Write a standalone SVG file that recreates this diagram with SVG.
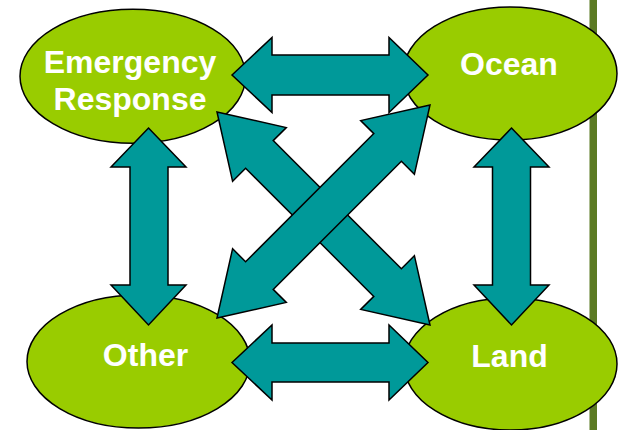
<svg xmlns="http://www.w3.org/2000/svg" width="618" height="430" viewBox="0 0 618 430">
<style>
.node ellipse{fill:#99cc00;stroke:#000;stroke-width:1.5}
.node text{fill:#fff;font-family:"Liberation Sans",Arial,sans-serif;font-weight:bold;font-size:32px;text-anchor:middle}
.arrow{fill:#009999;stroke:#000;stroke-width:1.5;stroke-linejoin:miter}
</style>
<rect width="618" height="430" fill="#fff"/>
<rect x="589.5" y="0" width="7.5" height="430" fill="#5b7a23"/>
<g id="emergency-response" class="node">
<ellipse cx="132.8" cy="76.3" rx="112.8" ry="67"/>
<text x="130" y="73">Emergency</text>
<text x="130" y="110">Response</text>
</g>
<g id="ocean" class="node">
<ellipse cx="510" cy="73.5" rx="107" ry="66.5"/>
<text x="509" y="75">Ocean</text>
</g>
<g id="other" class="node">
<ellipse cx="138.5" cy="361.5" rx="111.5" ry="66.5"/>
<text x="145.5" y="366">Other</text>
</g>
<g id="land" class="node">
<ellipse cx="510.5" cy="364" rx="106.5" ry="66"/>
<text x="509.5" y="367">Land</text>
</g>
<g id="connectors">
<polygon class="arrow" points="232,75 272,37.5 272,55 389,55 389,37.5 428,75 389,112.5 389,95 272,95 272,112.5"/>
<polygon class="arrow" points="232,362.5 272,325 272,343 389,343 389,325 428,362.5 389,400 389,382 272,382 272,400"/>
<polygon class="arrow" points="148.5,128 186,167 168,167 168,285 186,285 148.5,325 111,285 130,285 130,167 111,167"/>
<polygon class="arrow" points="511.5,128 549,167 530.5,167 530.5,285 549,285 511.5,325 474,285 492.5,285 492.5,167 474,167"/>
<polygon class="arrow" points="217,112 286.3,127.6 273.2,140.6 401.4,268.8 414.4,255.7 430,325 360.7,309.4 373.8,296.4 245.6,168.2 232.6,181.3"/>
<polygon class="arrow" points="217,318 286.3,302.4 273.2,289.4 401.4,161.2 414.4,174.3 430,105 360.7,120.6 373.8,133.6 245.6,261.8 232.6,248.7"/>
</g>
</svg>
